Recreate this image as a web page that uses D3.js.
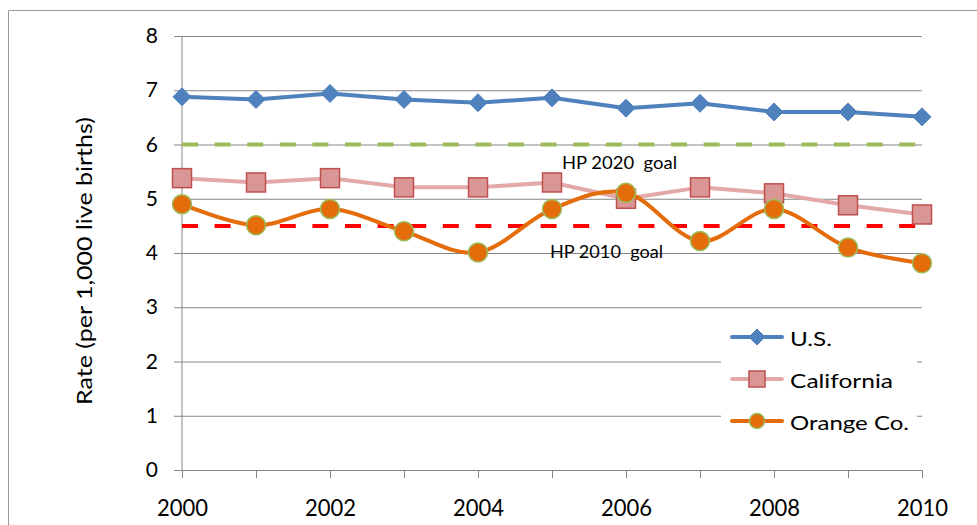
<!DOCTYPE html>
<html>
<head>
<meta charset="utf-8">
<script src="https://cdn.jsdelivr.net/npm/d3@7/dist/d3.min.js"></script>
<style>
  html, body { margin: 0; padding: 0; background: #fff; }
  svg { display: block; }
  text { font-family: Lato, "Open Sans", "Liberation Sans", sans-serif; fill: #000; }
</style>
</head>
<body>
<svg id="chart" width="977" height="525"></svg>
<script>
// Infant mortality rate, per 1,000 live births
const years = [2000, 2001, 2002, 2003, 2004, 2005, 2006, 2007, 2008, 2009, 2010];
const usRates = [6.88, 6.83, 6.94, 6.83, 6.77, 6.86, 6.67, 6.76, 6.60, 6.60, 6.51];
const californiaRates = [5.38, 5.30, 5.38, 5.21, 5.21, 5.30, 5.00, 5.21, 5.10, 4.88, 4.71];
const orangeCoRates = [4.90, 4.51, 4.81, 4.40, 4.01, 4.81, 5.11, 4.22, 4.81, 4.10, 3.81];
const seriesNames = ["U.S.", "California", "Orange Co."];
const goalValues = [6, 4.5];
const goalLabels = ["HP 2020  goal", "HP 2010  goal"];
const yTicks = [0, 1, 2, 3, 4, 5, 6, 7, 8];
const xLabelYears = [2000, 2002, 2004, 2006, 2008, 2010];
const yAxisTitle = "Rate (per 1,000 live births)";

const svg = d3.select("#chart");

const x = d3.scaleLinear().domain([2000, 2010]).range([182, 922]);
const y = d3.scaleLinear().domain([0, 8]).range([470, 36]);

const gridColor = "#868686";

// outer chart border (open on the right and bottom)
svg.append("path")
  .attr("d", "M8.5,525 V10.5 H977")
  .attr("fill", "none")
  .attr("stroke", "#9a9a9a")
  .attr("stroke-width", 1);

// horizontal gridlines with the y-axis tick marks
const yAxis = d3.axisLeft(y)
  .tickValues(yTicks)
  .tickSize(-(x.range()[1] - x.range()[0]))
  .tickSizeOuter(0)
  .tickPadding(24)
  .tickFormat(d3.format("d"));

const gy = svg.append("g")
  .attr("transform", `translate(${x(2000)},0)`)
  .call(yAxis);
gy.select(".domain").remove();
gy.selectAll(".tick line")
  .attr("x1", -8)
  .attr("stroke", gridColor)
  .attr("stroke-width", 1);
gy.selectAll(".tick text")
  .attr("font-size", 21)
  .attr("font-family", "Lato, 'Open Sans', sans-serif")
  .attr("fill", "#000");

// vertical axis line
svg.append("line")
  .attr("x1", x(2000)).attr("x2", x(2000))
  .attr("y1", y(8)).attr("y2", y(0))
  .attr("stroke", gridColor).attr("stroke-width", 1);

// x axis with a tick at every year, labels every other year
const xAxis = d3.axisBottom(x)
  .tickValues(years)
  .tickSize(8)
  .tickSizeOuter(0)
  .tickPadding(21)
  .tickFormat(d => xLabelYears.includes(d) ? String(d) : "");
const gx = svg.append("g")
  .attr("transform", `translate(0,${y(0)})`)
  .call(xAxis);
gx.select(".domain").attr("stroke", gridColor);
gx.selectAll(".tick line").attr("stroke", gridColor);
gx.selectAll(".tick text")
  .attr("font-size", 24)
  .attr("font-family", "Lato, 'Open Sans', sans-serif")
  .attr("fill", "#000")
  .each(function () {
    if (this.textContent) {
      d3.select(this).attr("textLength", 51).attr("lengthAdjust", "spacingAndGlyphs");
    }
  });

// y-axis title
svg.append("text")
  .attr("transform", `translate(92,261) rotate(-90)`)
  .attr("text-anchor", "middle")
  .attr("font-size", 21)
  .attr("textLength", 288)
  .attr("lengthAdjust", "spacingAndGlyphs")
  .text(yAxisTitle);

// goal reference lines
const goalColors = ["#9BBB59", "#FF0000"];
goalValues.forEach((g, i) => {
  svg.append("line")
    .attr("x1", x(2000)).attr("x2", x(2010))
    .attr("y1", y(g)).attr("y2", y(g))
    .attr("stroke", goalColors[i])
    .attr("stroke-width", 4)
    .attr("stroke-dasharray", "16,16.6");
});

// goal labels
const goalLabelPos = [[562, 169, 115], [550, 258, 113]];
goalLabels.forEach((t, i) => {
  svg.append("text")
    .attr("x", goalLabelPos[i][0])
    .attr("y", goalLabelPos[i][1])
    .attr("font-size", 17)
    .attr("textLength", goalLabelPos[i][2])
    .attr("lengthAdjust", "spacingAndGlyphs")
    .style("white-space", "pre")
    .text(t);
});

// series definitions
const series = [
  { name: seriesNames[0], values: usRates, line: "#4F81BD", fill: "#4F81BD", stroke: "#4F81BD", shape: "diamond", curve: d3.curveLinear },
  { name: seriesNames[1], values: californiaRates, line: "#E3A9A8", fill: "#D99694", stroke: "#C0504D", shape: "square", curve: d3.curveLinear },
  { name: seriesNames[2], values: orangeCoRates, line: "#E46C0A", fill: "#E46C0A", stroke: "#9BBB59", shape: "circle", curve: d3.curveCatmullRom.alpha(0) }
];

function drawMarker(g, shape, cx, cy, s, fill, stroke) {
  if (shape === "diamond") {
    g.append("path")
      .attr("d", `M${cx},${cy - s} L${cx + s},${cy} L${cx},${cy + s} L${cx - s},${cy} Z`)
      .attr("fill", fill).attr("stroke", stroke).attr("stroke-width", 1);
  } else if (shape === "square") {
    g.append("rect")
      .attr("x", cx - s).attr("y", cy - s)
      .attr("width", 2 * s).attr("height", 2 * s)
      .attr("fill", fill).attr("stroke", stroke).attr("stroke-width", 1.5);
  } else {
    g.append("circle")
      .attr("cx", cx).attr("cy", cy).attr("r", s)
      .attr("fill", fill).attr("stroke", stroke).attr("stroke-width", 1.5);
  }
}

const markerSize = { diamond: 9, square: 9.5, circle: 9.5 };

series.forEach(s => {
  const pts = years.map((yr, i) => [x(yr), y(s.values[i])]);
  const g = svg.append("g");
  g.append("path")
    .attr("d", d3.line().curve(s.curve)(pts))
    .attr("fill", "none")
    .attr("stroke", s.line)
    .attr("stroke-width", 4)
    .attr("stroke-linejoin", "round");
  pts.forEach(p => drawMarker(g, s.shape, p[0], p[1], markerSize[s.shape], s.fill, s.stroke));
});

// legend
const legend = svg.append("g");
legend.append("rect")
  .attr("x", 721).attr("y", 318)
  .attr("width", 196).attr("height", 134)
  .attr("fill", "#fff");
const legendRows = [337, 379, 421];
const legendTextWidths = [42, 103, 119];
const legendMarker = { diamond: 8, square: 8, circle: 7.5 };
series.forEach((s, i) => {
  const ly = legendRows[i];
  legend.append("line")
    .attr("x1", 732).attr("x2", 782)
    .attr("y1", ly).attr("y2", ly)
    .attr("stroke", s.line).attr("stroke-width", 4)
    .attr("stroke-linecap", "round");
  drawMarker(legend, s.shape, 757, ly, legendMarker[s.shape], s.fill, s.stroke);
  legend.append("text")
    .attr("x", 790).attr("y", ly + 9)
    .attr("font-size", 20)
    .attr("textLength", legendTextWidths[i])
    .attr("lengthAdjust", "spacingAndGlyphs")
    .text(s.name);
});
</script>
</body>
</html>
